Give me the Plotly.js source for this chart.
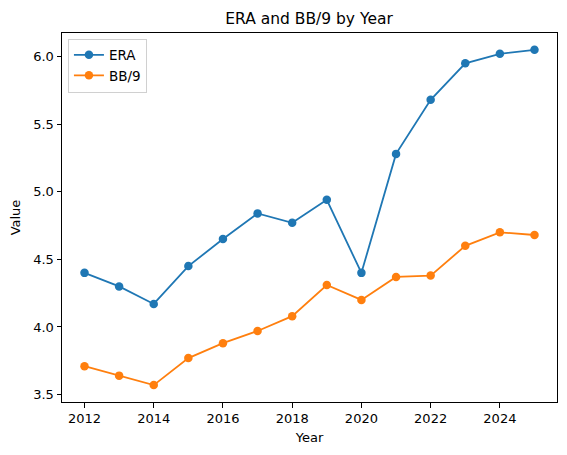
<!DOCTYPE html>
<html>
<head>
<meta charset="utf-8">
<script src="https://cdn.plot.ly/plotly-3.0.1.min.js"></script>
<style>
  html, body { margin: 0; padding: 0; background: #fff; }
  #chart { width: 567px; height: 455px; }
</style>
</head>
<body>
<div id="chart"></div>
<script>
// Data
const years = [2012, 2013, 2014, 2015, 2016, 2017, 2018, 2019, 2020, 2021, 2022, 2023, 2024, 2025];
const era   = [4.40, 4.30, 4.17, 4.45, 4.65, 4.84, 4.77, 4.94, 4.40, 5.28, 5.68, 5.95, 6.02, 6.05];
const bb9   = [3.71, 3.64, 3.57, 3.77, 3.88, 3.97, 4.08, 4.31, 4.20, 4.37, 4.38, 4.60, 4.70, 4.68];

const xTicks = [2012, 2014, 2016, 2018, 2020, 2022, 2024];
const yTicks = [3.5, 4.0, 4.5, 5.0, 5.5, 6.0];

const BLUE = "#1f77b4";
const ORANGE = "#ff7f0e";
const FONT = "DejaVu Sans, sans-serif";

function series(name, y, color) {
  return {
    x: years,
    y: y,
    name: name,
    type: "scatter",
    mode: "lines+markers",
    line: { color: color, width: 1.8 },
    marker: { color: color, size: 8.5 },
  };
}

const axisBase = {
  showgrid: false,
  zeroline: false,
  showline: true,
  mirror: true,
  linecolor: "#000",
  linewidth: 1,
  ticks: "outside",
  ticklen: 4.5,
  tickcolor: "#000",
  tickfont: { size: 13, color: "#000", family: FONT },
};

const layout = {
  width: 567,
  height: 455,
  margin: { l: 62, r: 10, t: 33, b: 53 },
  paper_bgcolor: "#fff",
  plot_bgcolor: "#fff",
  font: { family: FONT, color: "#000" },
  title: {
    text: "ERA and BB/9 by Year",
    font: { size: 15.5, color: "#000", family: FONT },
    x: 0.545,
    xanchor: "center",
    y: 0.96,
    yanchor: "middle",
  },
  xaxis: Object.assign({}, axisBase, {
    range: [2011.35, 2025.65],
    tickvals: xTicks,
    ticktext: xTicks.map(String),
    title: { text: "Year", font: { size: 13, family: FONT }, standoff: 7 },
  }),
  yaxis: Object.assign({}, axisBase, {
    range: [3.445, 6.174],
    tickvals: yTicks,
    ticktext: yTicks.map((v) => v.toFixed(1)),
    title: { text: "Value", font: { size: 13, family: FONT }, standoff: 9 },
  }),
  legend: {
    x: 0.012,
    y: 0.985,
    xanchor: "left",
    yanchor: "top",
    bgcolor: "rgba(255,255,255,0.8)",
    bordercolor: "#d0d0d0",
    borderwidth: 1,
    font: { size: 13.5, family: FONT },
    itemwidth: 30,
    tracegroupgap: 0,
  },
  showlegend: true,
};

Plotly.newPlot("chart", [series("ERA", era, BLUE), series("BB/9", bb9, ORANGE)], layout, {
  displayModeBar: false,
  staticPlot: true,
});
</script>
</body>
</html>
